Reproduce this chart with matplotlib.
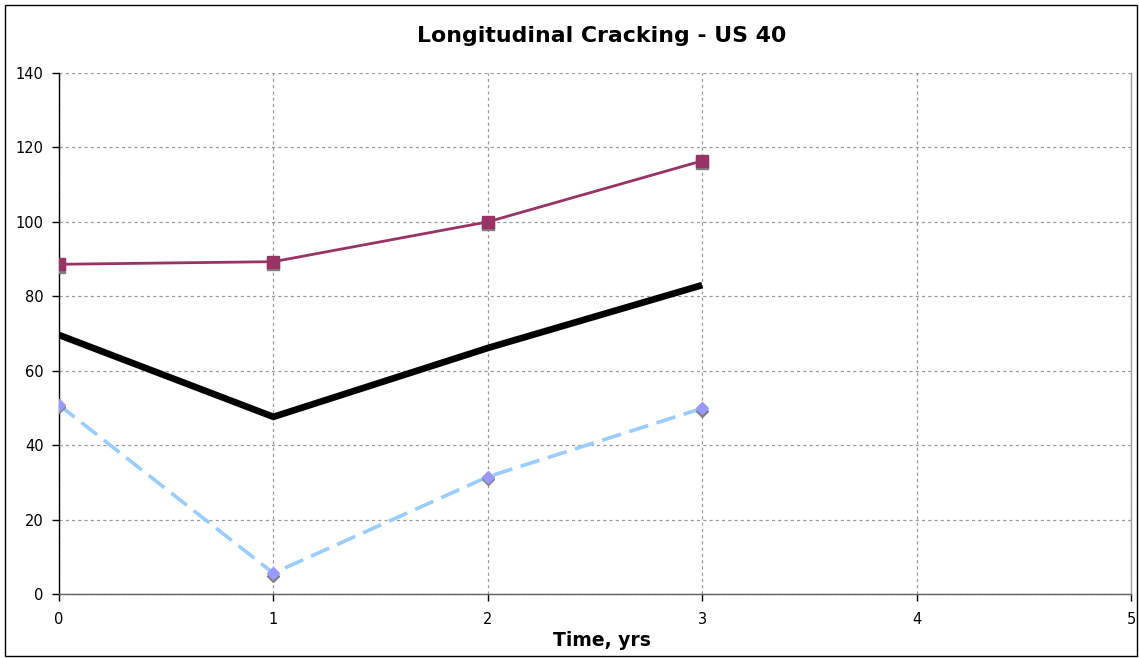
import matplotlib
matplotlib.use("Agg")
import matplotlib.pyplot as plt
from matplotlib.patches import Rectangle
from matplotlib.transforms import offset_copy

# Survey data, US 40 longitudinal cracking
years = [0, 1, 2, 3]
upper = [88.6, 89.3, 100.0, 116.4]
mean = [69.6, 47.6, 66.1, 83.0]
lower = [50.8, 5.6, 31.5, 49.9]

x_ticks = [0, 1, 2, 3, 4, 5]
y_ticks = [0, 20, 40, 60, 80, 100, 120, 140]

title = "Longitudinal Cracking - US 40"
x_label = "Time, yrs"

plt.rcParams["font.family"] = ["DejaVu Sans"]

fig = plt.figure(figsize=(11.39, 6.58), dpi=100)
ax = fig.add_axes([59 / 1139, 1 - 594 / 658, (1131 - 59) / 1139, (594 - 73) / 658])

# drop shadow for markers: same data, shifted a few pixels down
shadow = offset_copy(ax.transData, fig=fig, x=0, y=-2.5, units="dots")

ax.plot(years, upper, color="#993366", lw=2.0, zorder=3)
ax.plot(years, upper, ls="none", marker="s", ms=8, color="#808080",
        mec="#808080", transform=shadow, zorder=4)
ax.plot(years, upper, ls="none", marker="s", ms=8, color="#993366",
        mec="#993366", zorder=5)

ax.plot(years, mean, color="black", lw=4.8, solid_capstyle="butt",
        solid_joinstyle="miter", zorder=3)

ax.plot(years, lower, color="#99CCFF", lw=2.6, dashes=(5.5, 2.4), zorder=3)
ax.plot(years, lower, ls="none", marker="D", ms=6.5, color="#808080",
        mec="#808080", transform=shadow, zorder=4)
ax.plot(years, lower, ls="none", marker="D", ms=6.5, color="#9999FF",
        mec="#9999FF", zorder=5)

ax.set_xlim(0, 5)
ax.set_ylim(0, 140)
ax.set_xticks(x_ticks)
ax.set_yticks(y_ticks)
ax.tick_params(axis="both", direction="out", length=5, width=1,
               labelsize=10.5, pad=6, color="black")
ax.tick_params(axis="x", pad=8)

ax.grid(True, color="#999999", lw=0.9, dashes=(2.5, 2.5))
ax.set_axisbelow(True)

ax.spines["left"].set_color("black")
ax.spines["bottom"].set_color("#606060")
ax.spines["top"].set_visible(False)
ax.spines["right"].set_color("#a0a0a0")
for s in ("left", "bottom", "right"):
    ax.spines[s].set_linewidth(1.0)

fig.text(0.5 * (418 + 786) / 1139, 1 - 36 / 658, title, ha="center",
         va="center", fontsize=15.8, fontweight="bold")
fig.text(0.5 * (553 + 651) / 1139, 1 - 640 / 658, x_label, ha="center",
         va="center", fontsize=13.5, fontweight="bold")

# outer chart frame
fig.patches.append(Rectangle((5 / 1139, 1 - 656 / 658), (1137 - 5) / 1139,
                             (656 - 5) / 658, transform=fig.transFigure,
                             fill=False, ec="black", lw=1.0))

fig.savefig("out.png", dpi=100)
